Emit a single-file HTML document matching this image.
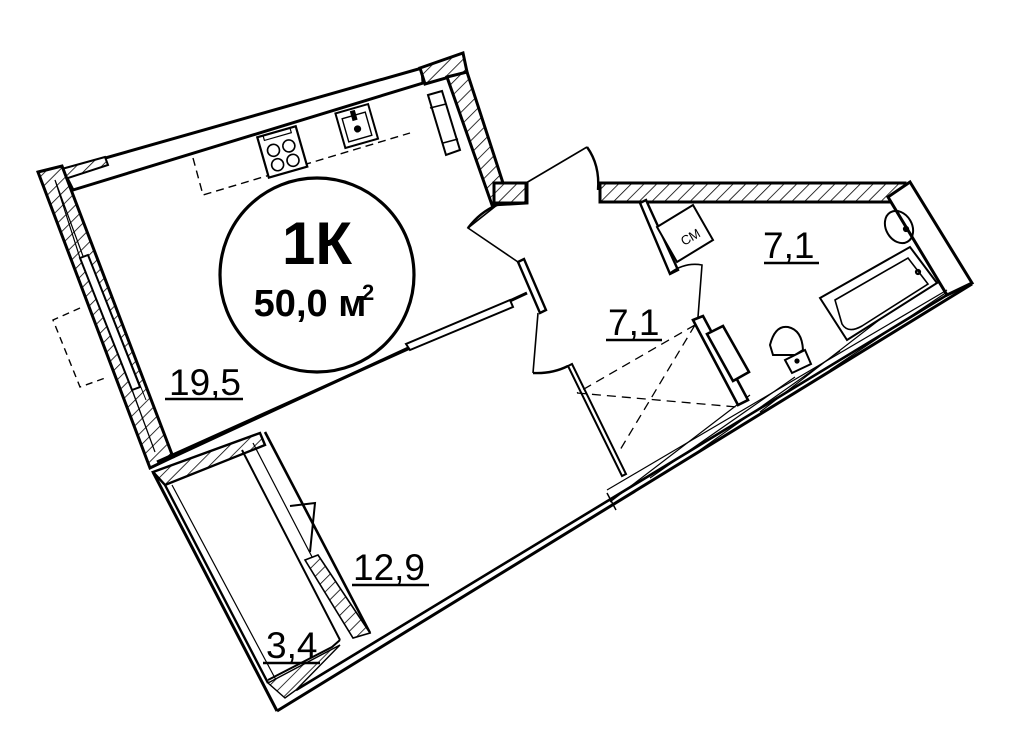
<!DOCTYPE html>
<html><head><meta charset="utf-8"><style>
html,body{margin:0;padding:0;background:#fff}
svg{display:block}
text{font-family:"Liberation Sans",Arial,sans-serif}
</style></head><body>
<svg width="1030" height="737" viewBox="0 0 1030 737" xmlns="http://www.w3.org/2000/svg">
<defs>
<pattern id="h" width="9" height="9" patternUnits="userSpaceOnUse" patternTransform="rotate(45)">
<rect width="9" height="9" fill="#fff"/><line x1="0" y1="0" x2="0" y2="9" stroke="#000" stroke-width="1.6"/>
</pattern>
</defs>
<g fill="none" stroke="#000" stroke-width="2.2" stroke-linejoin="miter">
<polygon points="63,170 422,68 423,83 73,190" fill="#fff" stroke-width="3"/>
<polygon points="420,68 463,53 467,72 425,84" fill="url(#h)" stroke-width="3"/>
<polygon points="40,175 105,157 108,165 62,180" fill="url(#h)" stroke-width="2"/>
<polygon points="38,172 62,166 173,457 150,468" fill="url(#h)" stroke-width="3"/>
<polygon points="55,180 80,258 132,390 155,452" fill="none" stroke-width="1.2"/>
<polygon points="80,258 88,255 140,387 132,390" fill="#fff" stroke-width="2"/>
<line x1="88" y1="255" x2="146" y2="400" stroke-width="1"/>
<polyline points="80,308 53,320 80,387 108,377" stroke-width="1.4" stroke-dasharray="7,5"/>
<polygon points="447,77 467,72 503,183 527,183 527,203 492,205" fill="url(#h)" stroke-width="3"/>
<polygon points="428,95 442,91 460,150 446,155" fill="#fff" stroke-width="2"/>
<line x1="430" y1="108" x2="446" y2="104" stroke-width="1.5"/>
<line x1="443" y1="143" x2="458" y2="139" stroke-width="1.5"/>
<line x1="157" y1="462" x2="510" y2="303" stroke-width="3"/>
<line x1="173" y1="457" x2="527" y2="293" stroke-width="3"/>
<polygon points="410,350 513,307 510,300 406,344" fill="#fff" stroke-width="2"/>
<polyline points="193,158 203,195 410,133" stroke-width="1.4" stroke-dasharray="8,5"/>
<g transform="translate(282,151) rotate(-16)">
<rect x="-20" y="-20" width="40" height="42" fill="#fff"/>
<circle cx="-8" cy="-3" r="6" stroke-width="1.6"/><circle cx="8" cy="-3" r="6" stroke-width="1.6"/>
<circle cx="-8" cy="12" r="6" stroke-width="1.6"/><circle cx="8" cy="12" r="6" stroke-width="1.6"/>
<rect x="-14" y="-20" width="28" height="5" stroke-width="1.2"/>
</g>
<g transform="translate(357,127) rotate(-16)">
<rect x="-17" y="-19" width="34" height="36" fill="#fff" stroke-width="2"/>
<rect x="-12" y="-12" width="24" height="24" stroke-width="1.4"/>
<circle cx="0" cy="2" r="2.5" fill="#000"/><rect x="-1.5" y="-16" width="3" height="8" fill="#000"/>
</g>
<circle cx="317" cy="275" r="97" stroke-width="3.2" fill="#fff"/>
<rect x="494" y="183" width="32" height="20" fill="url(#h)" stroke-width="3"/>
<rect x="600" y="183" width="305" height="19" fill="url(#h)" stroke-width="3"/>
<polygon points="888,197 910,182 972,283 947,295" fill="#fff" stroke-width="3"/>
<line x1="277" y1="711" x2="972" y2="284" stroke-width="3"/>
<line x1="296" y1="690" x2="947" y2="295" stroke-width="2.6"/>
<line x1="607" y1="490" x2="947" y2="290" stroke-width="1.2"/>
<path d="M610,502 L750,395 M650,478 L795,377 M700,450 L840,351 M760,412 L905,300 M830,370 L947,292" stroke-width="1.2"/>
<line x1="607" y1="493" x2="616" y2="510" stroke-width="1.5"/>
<polyline points="526,183 587,147" stroke-width="1.6"/>
<path d="M587,147 Q600,165 598,190" stroke-width="2.4"/>
<polyline points="497,205 468,228 518,262" stroke-width="1.6"/>
<path d="M497,205 Q480,212 468,228" stroke-width="2.4"/>
<polygon points="518,262 524,259 546,310 540,313" fill="#fff" stroke-width="2.4"/>
<polyline points="538,313 533,373" stroke-width="1.6"/>
<path d="M533,373 Q552,374 568,366" stroke-width="2.4"/>
<polygon points="568,366 572,364 626,474 622,476" fill="#fff" stroke-width="2"/>
<polygon points="640,203 646,200 678,270 670,274" fill="#fff" stroke-width="2.4"/>
<polygon points="657,227 693,205 713,240 677,262" fill="#fff" stroke-width="2"/>
<path d="M670,273 Q685,262 702,265 L698,317" stroke-width="1.6"/>
<polygon points="693,320 703,316 748,400 738,405" fill="#fff" stroke-width="2.6"/>
<polygon points="707,334 723,326 749,372 733,381" fill="#fff" stroke-width="2.6"/>
<path d="M695,325 L577,393 M695,325 L620,450 M577,393 L737,407" stroke-width="1.3" stroke-dasharray="9,6"/>
<path d="M773,355 L770,345 Q775,325 788,327 Q802,330 803,350 L795,355 Z" fill="#fff" stroke-width="2"/>
<polygon points="785,360 805,350 811,364 792,373" fill="#fff" stroke-width="2"/>
<circle cx="797" cy="361" r="1.5" fill="#000"/>
<polygon points="820,298 910,247 937,283 847,340" fill="#fff" stroke-width="2"/>
<path d="M835,300 L908,258 L928,284 L862,326 Q848,334 842,324 Z" stroke-width="1.6"/>
<ellipse cx="899" cy="227" rx="13" ry="17" transform="rotate(-30 899 227)" stroke-width="2"/>
<circle cx="906" cy="229" r="2" fill="#000"/>
<circle cx="918" cy="272" r="2"/>
<polygon points="153,472 260,433 265,445 165,485" fill="url(#h)" stroke-width="2.4"/>
<line x1="153" y1="472" x2="277" y2="711" stroke-width="3"/>
<line x1="165" y1="485" x2="268" y2="683" stroke-width="2.4"/>
<line x1="172" y1="485" x2="276" y2="680" stroke-width="1.2"/>
<line x1="242" y1="450" x2="340" y2="640" stroke-width="2"/>
<line x1="265" y1="432" x2="370" y2="633" stroke-width="2.6"/>
<line x1="253" y1="443" x2="353" y2="636" stroke-width="1.2"/>
<polygon points="305,560 318,555 370,633 353,638" fill="url(#h)" stroke-width="1.6"/>
<path d="M290,506 L315,503 L310,552" stroke-width="2"/>
<polyline points="340,640 332,647 268,680" stroke-width="2"/>
<polygon points="268,683 340,645 296,690 285,698" fill="url(#h)" stroke-width="1.4"/>
</g>
<text x="317" y="264" text-anchor="middle" font-size="60" font-weight="bold">1К</text>
<text x="310" y="316" text-anchor="middle" font-size="38" font-weight="bold">50,0 м</text>
<text x="362" y="300" font-size="22" font-weight="bold">2</text>
<g font-size="37">
<text x="169" y="395">19,5</text>
<text x="608" y="335">7,1</text>
<text x="763" y="258">7,1</text>
<text x="353" y="580">12,9</text>
<text x="266" y="658">3,4</text>
</g>
<g stroke="#000" stroke-width="2.4">
<line x1="165" y1="399" x2="243" y2="399"/>
<line x1="606" y1="340" x2="662" y2="340"/>
<line x1="764" y1="263" x2="819" y2="263"/>
<line x1="352" y1="585" x2="429" y2="585"/>
<line x1="263" y1="663" x2="320" y2="663"/>
</g>
<text x="0" y="0" font-size="13" transform="translate(684,246) rotate(-30)">СМ</text>
</svg>
</body></html>
